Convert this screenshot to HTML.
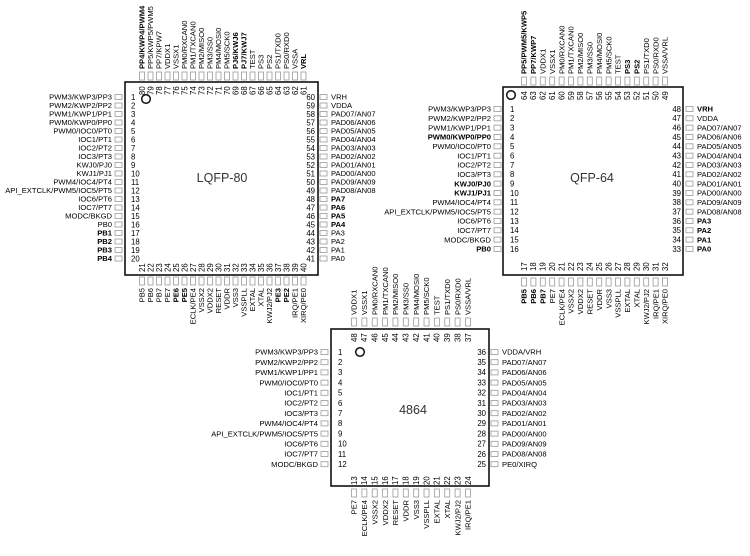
<!DOCTYPE html>
<html><head><meta charset="utf-8"><style>
html,body{margin:0;padding:0;background:#fff;width:750px;height:556px;overflow:hidden}
svg{display:block}
text{font-family:"Liberation Sans",Arial,sans-serif;font-size:7.6px;fill:#000}
.b{font-weight:bold}
.t{font-size:12.5px;fill:#333}
.n{font-size:7.8px}
</style></head><body>
<svg id="s" width="750" height="556" xmlns="http://www.w3.org/2000/svg"></svg>
<script>
var S=document.getElementById('s'),NS='http://www.w3.org/2000/svg';
function el(n,a,t){var e=document.createElementNS(NS,n);for(var k in a)e.setAttribute(k,a[k]);if(t!=null)e.textContent=t;S.appendChild(e);return e;}
function lab(s){var b=s.charAt(0)=='*';return {t:b?s.slice(1):s,c:b?'b':''};}
function chip(c){
 el('rect',{x:c.x0,y:c.y0,width:c.x1-c.x0,height:c.y1-c.y0,fill:'none',stroke:'#111','stroke-width':1.6});
 el('circle',{cx:c.cx,cy:c.cy,r:4.3,fill:'none',stroke:'#111','stroke-width':1.5});
 el('text',{x:c.tx,y:c.ty,'text-anchor':'middle','class':'t'},c.title);
 c.L.forEach(function(s,i){var y=c.ly+i*c.ls,l=lab(s);
  el('rect',{x:c.lr,y:y-2.5,width:7,height:5,fill:'none',stroke:'#999','stroke-width':0.8});
  el('text',{x:c.lr-3,y:y+2.7,'text-anchor':'end','class':l.c},l.t);
  el('text',{x:c.ln,y:y+2.8,'class':'n'},c.lnum+i);});
 c.R.forEach(function(s,i){var y=c.ly+i*c.ls,l=lab(s);
  el('rect',{x:c.rr,y:y-2.5,width:7,height:5,fill:'none',stroke:'#999','stroke-width':0.8});
  el('text',{x:c.rr+11,y:y+2.7,'class':l.c},l.t);
  el('text',{x:c.rn,y:y+2.8,'text-anchor':'end','class':'n'},c.rnum-i);});
 c.T.forEach(function(s,i){var x=c.tx0+i*c.ts,l=lab(s);
  el('rect',{x:x-2.5,y:c.tr,width:5,height:8,fill:'none',stroke:'#999','stroke-width':0.8});
  el('text',{x:x+2.7,y:c.tr-3,transform:'rotate(-90 '+(x+2.7)+' '+(c.tr-3)+')','class':l.c},l.t);
  el('text',{x:x+2.8,y:c.tn,transform:'rotate(-90 '+(x+2.8)+' '+c.tn+')','class':'n'},c.tnum-i);});
 c.B.forEach(function(s,i){var x=c.tx0+i*c.ts,l=lab(s);
  el('rect',{x:x-2.5,y:c.br,width:5,height:8,fill:'none',stroke:'#999','stroke-width':0.8});
  el('text',{x:x+2.7,y:c.br+11,'text-anchor':'end',transform:'rotate(-90 '+(x+2.7)+' '+(c.br+11)+')','class':l.c},l.t);
  el('text',{x:x+2.8,y:c.bn,transform:'rotate(-90 '+(x+2.8)+' '+c.bn+')','class':'n'},c.bnum+i);});
}
chip({x0:125,y0:82,x1:318,y1:275,cx:146,cy:99,title:'LQFP-80',tx:222,ty:182,
 ly:97,ls:8.5,lr:115,ln:131,lnum:1,rr:320,rn:315,rnum:60,tx0:142,ts:8.5,tr:72,tn:95,tnum:80,br:277,bn:272,bnum:21,
 L:['PWM3/KWP3/PP3','PWM2/KWP2/PP2','PWM1/KWP1/PP1','PWM0/KWP0/PP0','PWM0/IOC0/PT0','IOC1/PT1','IOC2/PT2','IOC3/PT3','KWJ0/PJ0','KWJ1/PJ1','PWM4/IOC4/PT4','API_EXTCLK/PWM5/IOC5/PT5','IOC6/PT6','IOC7/PT7','MODC/BKGD','PB0','*PB1','*PB2','*PB3','*PB4'],
 R:['VRH','VDDA','PAD07/AN07','PAD06/AN06','PAD05/AN05','PAD04/AN04','PAD03/AN03','PAD02/AN02','PAD01/AN01','PAD00/AN00','PAD09/AN09','PAD08/AN08','*PA7','*PA6','*PA5','*PA4','PA3','PA2','PA1','PA0'],
 T:['*PP4/KWP4/PWM4','PP5/KWP5/PWM5','PP7/KPW7','VDDX1','VSSX1','PM0/RXCAN0','PM1/TXCAN0','PM2/MISO0','PM3/SS0','PM4/MOSI0','PM5/SCK0','*PJ6/KWJ6','*PJ7/KWJ7','TEST','PS3','PS2','PS1/TXD0','PS0/RXD0','VSSA','*VRL'],
 B:['PB5','PB6','PB7','PE7','*PE6','*PE5','ECLK/PE4','VSSX2','VDDX2','RESET','VDDR','VSS3','VSSPLL','EXTAL','XTAL','KWJ2/PJ2','*PE3','*PE2','IRQ/PE1','XIRQ/PE0']});
chip({x0:503,y0:87,x1:683,y1:275,cx:511,cy:95,title:'QFP-64',tx:592,ty:182,
 ly:109,ls:9.33,lr:494,ln:510,lnum:1,rr:686,rn:681,rnum:48,tx0:524,ts:9.4,tr:77,tn:100,tnum:64,br:278,bn:271,bnum:17,
 L:['PWM3/KWP3/PP3','PWM2/KWP2/PP2','PWM1/KWP1/PP1','*PWM0/KWP0/PP0','PWM0/IOC0/PT0','IOC1/PT1','IOC2/PT2','IOC3/PT3','*KWJ0/PJ0','*KWJ1/PJ1','PWM4/IOC4/PT4','API_EXTCLK/PWM5/IOC5/PT5','IOC6/PT6','IOC7/PT7','MODC/BKGD','*PB0'],
 R:['*VRH','VDDA','PAD07/AN07','PAD06/AN06','PAD05/AN05','PAD04/AN04','PAD03/AN03','PAD02/AN02','PAD01/AN01','PAD00/AN00','PAD09/AN09','PAD08/AN08','*PA3','*PA2','*PA1','*PA0'],
 T:['*PP5/PWM5/KWP5','*PP7/KWP7','VDDX1','VSSX1','PM0/RXCAN0','PM1/TXCAN0','PM2/MISO0','PM3/SS0','PM4/MOSI0','PM5/SCK0','TEST','*PS3','*PS2','PS1/TXD0','PS0/RXD0','VSSA/VRL'],
 B:['*PB5','*PB6','*PB7','PE7','ECLK/PE4','VSSX2','VDDX2','RESET','VDDR','VSS3','VSSPLL','EXTAL','XTAL','KWJ2/PJ2','IRQ/PE1','XIRQ/PE0']});
chip({x0:331,y0:329,x1:489,y1:486,cx:360,cy:352,title:'4864',tx:413,ty:414,
 ly:352,ls:10.2,lr:321,ln:338,lnum:1,rr:491,rn:486,rnum:36,tx0:354,ts:10.36,tr:318,tn:342,tnum:48,br:489,bn:485,bnum:13,
 L:['PWM3/KWP3/PP3','PWM2/KWP2/PP2','PWM1/KWP1/PP1','PWM0/IOC0/PT0','IOC1/PT1','IOC2/PT2','IOC3/PT3','PWM4/IOC4/PT4','API_EXTCLK/PWM5/IOC5/PT5','IOC6/PT6','IOC7/PT7','MODC/BKGD'],
 R:['VDDA/VRH','PAD07/AN07','PAD06/AN06','PAD05/AN05','PAD04/AN04','PAD03/AN03','PAD02/AN02','PAD01/AN01','PAD00/AN00','PAD09/AN09','PAD08/AN08','PE0/XIRQ'],
 T:['VDDX1','VSSX1','PM0/RXCAN0','PM1/TXCAN0','PM2/MISO0','PM3/SS0','PM4/MOSI0','PM5/SCK0','TEST','PS1/TXD0','PS0/RXD0','VSSA/VRL'],
 B:['PE7','ECLK/PE4','VSSX2','VDDX2','RESET','VDDR','VSS3','VSSPLL','EXTAL','XTAL','KWJ2/PJ2','IRQ/PE1']});
</script>
</body></html>
